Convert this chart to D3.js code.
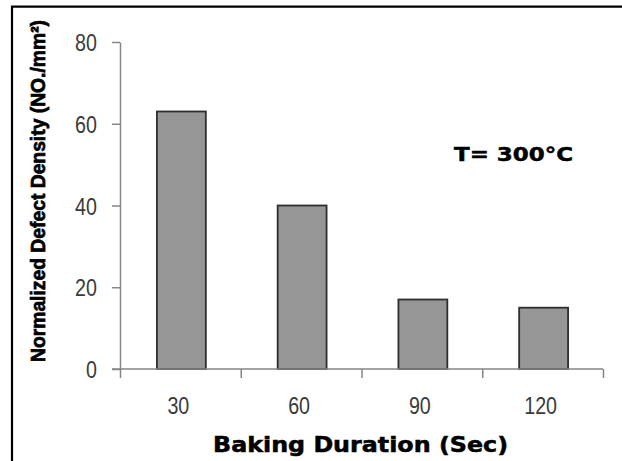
<!DOCTYPE html>
<html>
<head>
<meta charset="utf-8">
<script src="https://cdn.jsdelivr.net/npm/d3@7"></script>
<style>
  html, body { margin: 0; padding: 0; background: #fff; }
  svg { display: block; }
</style>
</head>
<body>
<svg id="chart" width="622" height="461"></svg>
<script>
// Defect density after baking at 300 °C
const durations = ["30", "60", "90", "120"];
const defectDensity = [63, 40, 17, 15];
const yTicks = [0, 20, 40, 60, 80];

const svg = d3.select("#chart");
const W = 622, H = 461;

// Frame (top and left edges)
svg.append("path")
  .attr("d", `M12,${H + 5} V6.7 H${W + 5}`)
  .attr("fill", "none")
  .attr("stroke", "#000")
  .attr("stroke-width", 2.2);

const plot = { left: 120, right: 603, top: 42, bottom: 369 };

const x = d3.scaleBand()
  .domain(durations)
  .range([plot.left, plot.right])
  .padding(0);

const xEdges = d3.scaleLinear()
  .domain([0, durations.length])
  .range([plot.left, plot.right]);

const y = d3.scaleLinear()
  .domain([0, 80])
  .range([plot.bottom, plot.top]);

const axisColor = "#868686";
const labelColor = "#3a3a3a";

// Bars
const barW = x.bandwidth() * 0.405;
svg.append("g")
  .selectAll("rect")
  .data(durations.map((d, i) => ({ d, v: defectDensity[i] })))
  .join("rect")
  .attr("x", p => x(p.d) + (x.bandwidth() - barW) / 2 + 1)
  .attr("y", p => y(p.v))
  .attr("width", barW)
  .attr("height", p => y(0) - y(p.v))
  .attr("fill", "#969696")
  .attr("stroke", "#2e2e2e")
  .attr("stroke-width", 1.8);

// Y axis
const yAxis = svg.append("g")
  .attr("transform", `translate(${plot.left},0)`)
  .call(d3.axisLeft(y).tickValues(yTicks).tickSize(8).tickSizeOuter(0).tickPadding(0));
yAxis.select(".domain").attr("stroke", axisColor).attr("stroke-width", 1.5);
yAxis.selectAll(".tick line").attr("stroke", axisColor).attr("stroke-width", 1.5);
yAxis.selectAll(".tick text")
  .attr("fill", labelColor)
  .attr("font-family", "'Liberation Sans', Arial, sans-serif")
  .attr("font-size", 24)
  .attr("x", -23 / 0.82)
  .attr("dy", "0.36em")
  .attr("transform", "scale(0.82,1)");

// X axis: boundary ticks
const xTickAxis = svg.append("g")
  .attr("transform", `translate(0,${plot.bottom})`)
  .call(d3.axisBottom(xEdges).tickValues(d3.range(durations.length + 1)).tickFormat("").tickSize(9).tickSizeOuter(0));
xTickAxis.select(".domain").remove();
xTickAxis.selectAll(".tick line").attr("stroke", axisColor).attr("stroke-width", 1.5);

// X axis: line and category labels
const xAxis = svg.append("g")
  .attr("transform", `translate(0,${plot.bottom})`)
  .call(d3.axisBottom(x).tickSize(0).tickSizeOuter(0).tickPadding(0));
xAxis.select(".domain").remove();
xAxis.selectAll(".tick text")
  .attr("fill", labelColor)
  .attr("font-family", "'Liberation Sans', Arial, sans-serif")
  .attr("font-size", 24)
  .attr("y", 45)
  .attr("dy", 0)
  .attr("transform", "scale(0.82,1)");
xAxis.selectAll(".tick")
  .attr("transform", d => `translate(${x(d) + x.bandwidth() / 2 - 2},0)`);

svg.append("line")
  .attr("x1", plot.left - 8).attr("x2", plot.right)
  .attr("y1", plot.bottom).attr("y2", plot.bottom)
  .attr("stroke", axisColor).attr("stroke-width", 1.5);

// Axis titles
svg.append("text")
  .attr("x", 213).attr("y", 451.5)
  .attr("font-family", "'DejaVu Sans', sans-serif")
  .attr("font-weight", "bold")
  .attr("font-size", 20.5)
  .attr("textLength", 295)
  .attr("lengthAdjust", "spacingAndGlyphs")
  .attr("fill", "#000")
  .attr("stroke", "#000")
  .attr("stroke-width", 0.5)
  .text("Baking Duration (Sec)");

svg.append("text")
  .attr("transform", "translate(44.5,362) rotate(-90)")
  .attr("font-family", "'Liberation Sans', Arial, sans-serif")
  .attr("font-weight", "bold")
  .attr("font-size", 20)
  .attr("textLength", 342)
  .attr("lengthAdjust", "spacingAndGlyphs")
  .attr("fill", "#000")
  .attr("stroke", "#000")
  .attr("stroke-width", 0.7)
  .text("Normalized Defect Density (NO./mm²)");

// Annotation
svg.append("text")
  .attr("x", 454).attr("y", 160.5)
  .attr("font-family", "'DejaVu Sans', sans-serif")
  .attr("font-weight", "bold")
  .attr("font-size", 20)
  .attr("textLength", 119)
  .attr("lengthAdjust", "spacingAndGlyphs")
  .attr("fill", "#000")
  .attr("stroke", "#000")
  .attr("stroke-width", 0.5)
  .text("T= 300°C");
</script>
</body>
</html>
